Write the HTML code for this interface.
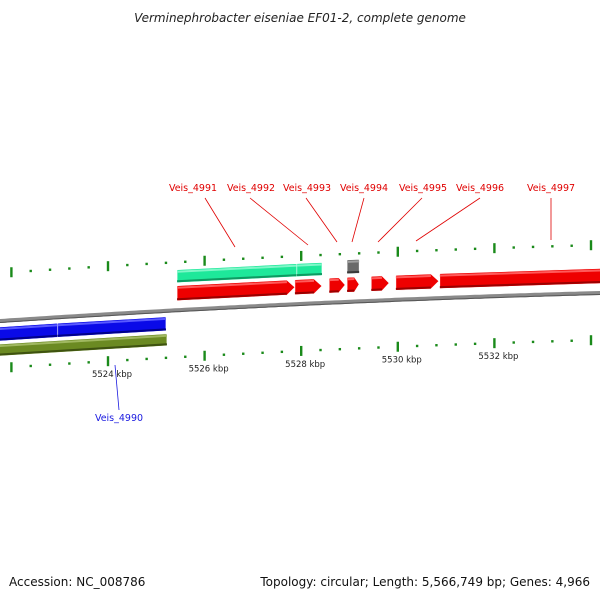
<!DOCTYPE html>
<html><head><meta charset="utf-8"><style>
body{margin:0;background:#fff;}
svg{display:block;font-family:"DejaVu Sans","Liberation Sans",sans-serif;}
</style></head><body>
<svg id="c" width="600" height="600" viewBox="0 0 600 600">
<text x="300" y="22" text-anchor="middle" font-size="12" font-style="italic" fill="#222">Verminephrobacter eiseniae EF01-2, complete genome</text>
<text x="9" y="586" font-size="12" fill="#111">Accession: NC_008786</text>
<text x="590" y="586" text-anchor="end" font-size="12" fill="#111">Topology: circular; Length: 5,566,749 bp; Genes: 4,966</text>
<g id="g"></g>
</svg>
<script>
const geneStart=[5525.43,5527.87,5528.58,5528.95,5529.45,5529.96,5530.87];
const geneEnd=[5527.87,5528.43,5528.91,5529.20,5529.82,5530.85,5534.3];
const tealStart=[5525.43,5527.91];
const tealEnd=[5527.91,5528.43];
const blueStart=[5521.7,5522.96];
const blueEnd=[5522.96,5525.2];
const oliveStart=[5521.7];
const oliveEnd=[5525.22];
const grayStart=[5528.95];
const grayEnd=[5529.20];
const tickLabels=[5524,5526,5528,5530,5532];
const redLabels=["Veis_4991","Veis_4992","Veis_4993","Veis_4994","Veis_4995","Veis_4996","Veis_4997"];
const blueLabel="Veis_4990";

const NS="http://www.w3.org/2000/svg";
const G=document.getElementById('g');
function X(k){return 108+(k-5524)*48.3;}
function B(x){return 321-0.0667*x+3.33e-5*x*x;}
function el(t,a){const e=document.createElementNS(NS,t);for(const k in a)e.setAttribute(k,a[k]);G.appendChild(e);return e;}

let d="";for(let x=-5;x<=605;x+=5)d+=(x<0?"M":"L")+x+","+B(x).toFixed(1);
let bb=el('path',{d:d,stroke:'#8a8a8a','stroke-width':4,fill:'none'});


let bb2=el('path',{d:d,stroke:'#555','stroke-width':1,fill:'none',transform:'translate(0,1.5)'});



for(let k=5521.6;k<=5534.3;k+=0.4){
  const kk=Math.round(k*10)/10;const x=X(kk);if(x<0||x>600)continue;
  const major=Math.abs(kk/2-Math.round(kk/2))<0.01;
  [-48,47].forEach((o,i)=>{
    const y=B(x)+o;
    const t=el('line',{x1:x,x2:x,y1:y-(major?5:1.2),y2:y+(major?5:1.2),stroke:'#1a8a1a','stroke-width':2.4});
    
    
  });
}
tickLabels.forEach(k=>{
  const x=X(k);
  const t=el('text',{x:x+4,y:B(x)+63,'text-anchor':'middle','font-size':8.5,fill:'#222'});
  t.textContent=k+" kbp";
  
  
});

function band(s,e,off,h,col,light,dark,arrow,name){
  const x1=X(s),x2=X(e);
  const y1=B(x1)+off,y2=B(x2)+off;
  let tip=arrow?Math.min(8,(x2-x1)*0.4):0;
  const xe=x2-tip;const ye=B(xe)+off;
  let p=`M${x1},${y1-h/2}L${xe},${ye-h/2}`;
  if(arrow)p+=`L${x2},${y2}`;
  p+=`L${xe},${ye+h/2}L${x1},${y1+h/2}Z`;
  const a=el('path',{d:p,fill:col,stroke:'#fff','stroke-width':0.6});
  
  
  const b=el('path',{d:`M${x1},${y1-h/2+2}L${xe},${ye-h/2+2}`,stroke:light,'stroke-width':2});
  
  
  const c=el('path',{d:`M${x1},${y1+h/2-1.5}L${xe},${ye+h/2-1.5}`,stroke:dark,'stroke-width':2});
  
  
}
tealStart.forEach((s,i)=>band(s,tealEnd[i],-34,13,'#1ee89a','#7ff7c8','#0e9a62',false,'cds-teal'));
geneStart.forEach((s,i)=>band(s,geneEnd[i],-17,15,'#ee0000','#ff5a5a','#9a0000',i<6,'gene-red'));
grayStart.forEach((s,i)=>band(s,grayEnd[i],-35,14,'#6a6a6a','#a0a0a0','#3a3a3a',false,'gene-gray'));
blueStart.forEach((s,i)=>band(s,blueEnd[i],13,14,'#0a0ae8','#5a5aff','#00008a',false,'gene-blue'));
oliveStart.forEach((s,i)=>band(s,oliveEnd[i],29,12,'#6b8a22','#a0b860','#3e5210',false,'cds-olive'));

const labX=[193,251,307,364,423,480,551];
const lineX0=[205,250,306,364,422,480,551];
const tgt=[235,308,337,352,378,416,551];
const tgtY=[247,245,242,242,242,241,240];
redLabels.forEach((n,i)=>{
  const t=el('text',{x:labX[i],y:191,'text-anchor':'middle','font-size':9.5,fill:'#e00000'});
  t.textContent=n;
  
  
  const l=el('line',{x1:lineX0[i],y1:198,x2:tgt[i],y2:tgtY[i],stroke:'#e00000','stroke-width':0.8});
  
  
});
{
  const t=el('text',{x:119,y:421,'text-anchor':'middle','font-size':9.5,fill:'#1a1ae0'});
  t.textContent=blueLabel;
  
  
  const l=el('line',{x1:115,y1:365,x2:119,y2:410,stroke:'#1a1ae0','stroke-width':0.8});
  
  
}
</script>
</body></html>
